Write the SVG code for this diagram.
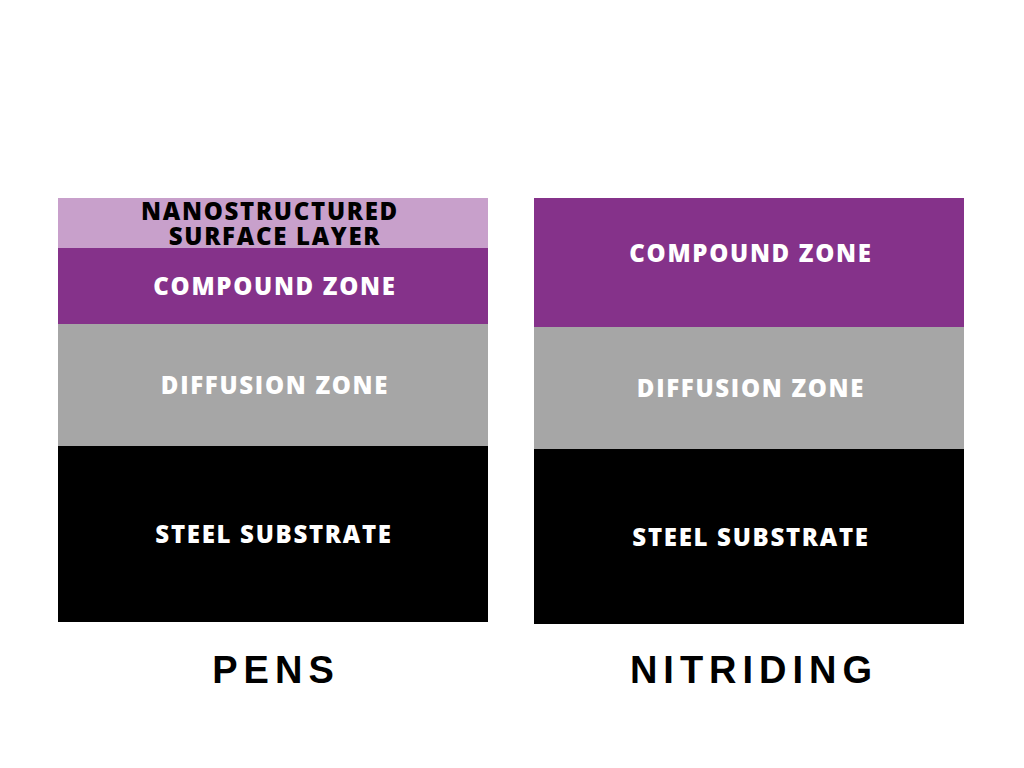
<svg xmlns="http://www.w3.org/2000/svg" width="1024" height="768" viewBox="0 0 1024 768">
<style>
.lbl{font-family:"Open Sans","Liberation Sans",sans-serif;font-weight:800;font-size:24px;letter-spacing:1.7px;text-anchor:middle}
.w{fill:#ffffff}
.k{fill:#000000}
.ttl{font-family:"Liberation Sans","DejaVu Sans",sans-serif;font-weight:700;font-size:38px;letter-spacing:6px;text-anchor:middle;fill:#000}
</style>
<rect width="1024" height="768" fill="#ffffff"/>
<g id="pens">
<g id="pens-nano"><rect x="58" y="198" width="430" height="50" fill="#c8a0cb"/>
<text class="lbl k" x="270" y="220">NANOSTRUCTURED</text>
<text class="lbl k" x="275" y="245">SURFACE LAYER</text></g>
<g id="pens-compound"><rect x="58" y="248" width="430" height="76" fill="#85328a"/>
<text class="lbl w" x="275" y="295">COMPOUND ZONE</text></g>
<g id="pens-diffusion"><rect x="58" y="324" width="430" height="122" fill="#a6a6a6"/>
<text class="lbl w" x="275" y="394">DIFFUSION ZONE</text></g>
<g id="pens-steel"><rect x="58" y="446" width="430" height="176" fill="#000000"/>
<text class="lbl w" x="274" y="543">STEEL SUBSTRATE</text></g>
<text class="ttl" x="276" y="683">PENS</text>
</g>
<g id="nitriding">
<g id="nit-compound"><rect x="534" y="198" width="430" height="129" fill="#85328a"/>
<text class="lbl w" x="751" y="262">COMPOUND ZONE</text></g>
<g id="nit-diffusion"><rect x="534" y="327" width="430" height="122" fill="#a6a6a6"/>
<text class="lbl w" x="751" y="397">DIFFUSION ZONE</text></g>
<g id="nit-steel"><rect x="534" y="449" width="430" height="175" fill="#000000"/>
<text class="lbl w" x="751" y="546">STEEL SUBSTRATE</text></g>
<text class="ttl" x="754" y="683">NITRIDING</text>
</g>
<g id="connectors"></g>
</svg>
